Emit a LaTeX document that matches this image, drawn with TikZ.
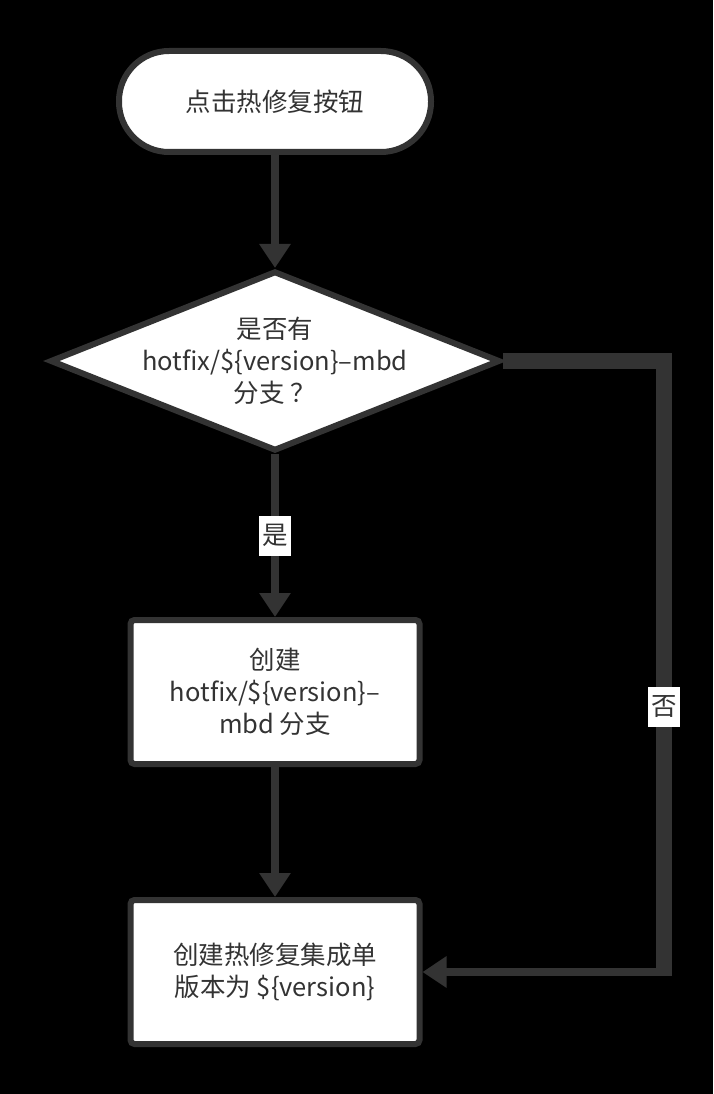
\documentclass[tikz,border=0pt]{standalone}
\usepackage{fontspec}
\setmainfont{Noto Sans CJK SC}
\usetikzlibrary{shapes.geometric,arrows.meta}
\definecolor{ink}{HTML}{333333}
\begin{document}
\begin{tikzpicture}[x=1pt,y=-1pt,
  base/.style={draw=ink, fill=white, text=ink, font=\fontsize{25.5}{32}\selectfont, align=center, line width=6pt, inner sep=0pt},
  startbox/.style={base, rounded corners=50pt, minimum width=312pt, minimum height=101pt},
  procbox/.style={base, rounded corners=4pt, minimum width=289pt, minimum height=144pt},
  decide/.style={base, diamond, shape aspect=2.5, minimum width=450pt, minimum height=180pt},
  txt/.style={text=ink, font=\fontsize{25.5}{32}\selectfont, align=center, inner sep=0pt},
  link/.style={draw=ink, line width=8pt, -{Triangle[width=30pt,length=24pt]}},
  bigline/.style={draw=ink, line width=16pt},
  lbl/.style={fill=white, text=ink, font=\fontsize{25.5}{28}\selectfont, inner sep=0pt, minimum width=32pt, minimum height=40pt}]
\fill[black] (0,0) rectangle (713,1094);
\useasboundingbox (0,0) rectangle (713,1094);

\node[startbox] (start) at (275,101.5) {点击热修复按钮};
\node[decide] (dec) at (275,361) {};
\node[txt] (dectext) at (dec.center) {是否有\\hotfix/\$\{version\}–mbd\\分支 ？};
\node[procbox] (create) at (275,692) {创建\\hotfix/\$\{version\}–\\mbd 分支};
\node[procbox] (final) at (275,972) {创建热修复集成单\\版本为 \$\{version\}};

\coordinate (c1) at (664,361);
\coordinate (c2) at (664,976);
\coordinate (c3) at (664,972);

\draw[link] (start) -- (dec);
\draw[link] (dec) -- node[lbl] (yes) {是} (create);
\draw[link] (create) -- (final);
\draw[bigline] (dec.east) -- (c1) -- (c2);
\draw[link] (c3) -- (final.east);
\node[lbl] (no) at (664,707) {否};
\end{tikzpicture}
\end{document}
